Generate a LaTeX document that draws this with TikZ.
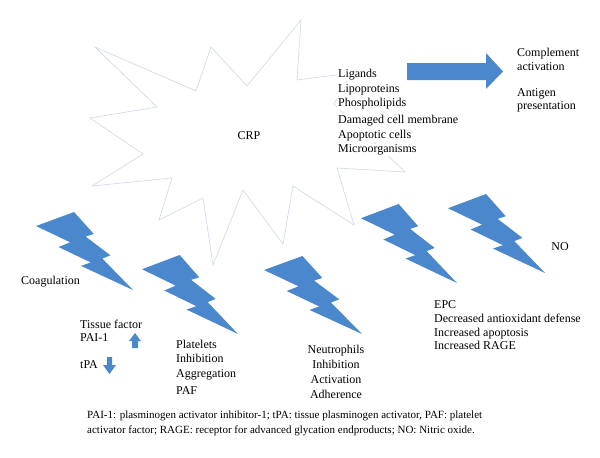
\documentclass[tikz,border=0pt]{standalone}
\usepackage{fontspec}
\setmainfont{Liberation Serif}
\definecolor{boltblue}{RGB}{74,135,204}
\definecolor{starline}{RGB}{205,215,228}
\tikzset{
  bolt/.pic={\fill[boltblue] (39.22,0) -- (59.54,28.15) -- (51.16,31.47) -- (76.75,55.59) -- (68.37,59.62) -- (100,100) -- (46.35,69.05) -- (56.58,64.75) -- (23.25,44.93) -- (35.19,38.81) -- (0,18.01) -- cycle;},
  txt/.style={font=\fontsize{12}{14}\selectfont, inner sep=0pt, anchor=base west},
  ctxt/.style={txt, anchor=base},
  captxt/.style={font=\fontsize{11}{13}\selectfont, inner sep=0pt, anchor=base west},
  blockarrow/.style={fill=boltblue, draw=none}
}
\begin{document}
\begin{tikzpicture}[x=1pt,y=-1pt]
\useasboundingbox (0,0) rectangle (600,458);
% star
\draw[starline, line width=0.6pt, line join=miter]
  (95,47) -- (196,91) -- (211,47) -- (247,86) -- (301,20) -- (297,80)
  -- (352,73) -- (334,104) -- (405,172) -- (337,168) -- (354,225)
  -- (293,186) -- (283,244) -- (243,190) -- (213,265) -- (203,198)
  -- (159,220) -- (172,178) -- (92,186) -- (143,154) -- (90,118)
  -- (157,107) -- cycle;
\node[ctxt] (crp) at (249,139) {CRP};
% list
\node[txt, fill=white, inner sep=1pt] (lig) at (337,77.5) {Ligands};
\node[txt, fill=white, inner sep=1pt] (lip) at (337,92) {Lipoproteins};
\node[txt, fill=white, inner sep=1pt] (pho) at (337,106.5) {Phospholipids};
\node[txt, fill=white, inner sep=1pt] (dam) at (337,123.5) {Damaged cell membrane};
\node[txt, fill=white, inner sep=1pt] (apo) at (337,138) {Apoptotic cells};
\node[txt, fill=white, inner sep=1pt] (mic) at (337,152.5) {Microorganisms};
% block arrow
\fill[blockarrow] (407,63) -- (486,63) -- (486,53) -- (503,71.5) -- (486,89) -- (486,80) -- (407,80) -- cycle;
\node[txt] (com) at (517,56.5) {Complement};
\node[txt] (act) at (517,70.5) {activation};
\node[txt] (ant) at (517,96.5) {Antigen};
\node[txt] (pre) at (517,109.5) {presentation};
% bolts
\pic[xscale=0.97, yscale=0.78] at (36,212) {bolt};
\pic[xscale=0.96, yscale=0.79] at (142,255) {bolt};
\pic[xscale=0.98, yscale=0.78] at (264,256) {bolt};
\pic[xscale=0.96, yscale=0.79] at (361,204) {bolt};
\pic[xscale=0.97, yscale=0.79] at (448,194) {bolt};
% coagulation
\node[txt] (coa) at (21,284) {Coagulation};
\node[txt] (tis) at (80,328) {Tissue factor};
\node[txt] (pai) at (80,341) {PAI-1};
\node[txt] (tpa) at (80,368) {tPA};
\fill[blockarrow] (132,348) -- (132,341) -- (129,341) -- (135,333) -- (141,341) -- (138,341) -- (138,348) -- cycle;
\fill[blockarrow] (107,357) -- (112,357) -- (112,365) -- (116,365) -- (109.5,374) -- (103,365) -- (107,365) -- cycle;
% platelets
\node[txt] (pla) at (176,348) {Platelets};
\node[txt] (pin) at (176,362) {Inhibition};
\node[txt] (agg) at (176,377) {Aggregation};
\node[txt] (paf) at (176,394) {PAF};
% neutrophils
\node[ctxt] (neu) at (336,353) {Neutrophils};
\node[ctxt] (nin) at (336,368) {Inhibition};
\node[ctxt] (nac) at (336,383) {Activation};
\node[ctxt] (adh) at (336,398) {Adherence};
% EPC
\node[txt] (epc) at (434,308) {EPC};
\node[txt] (dec) at (434,322.5) {Decreased antioxidant defense};
\node[txt] (iap) at (434,336) {Increased apoptosis};
\node[txt] (irg) at (434,349.5) {Increased RAGE};
% NO
\node[ctxt] (no) at (560,250) {NO};
% caption
\node[captxt] (cap1) at (87,418) {PAI-1: plasminogen activator inhibitor-1; tPA: tissue plasminogen activator, PAF: platelet};
\node[captxt] (cap2) at (87,433) {activator factor; RAGE: receptor for advanced glycation endproducts; NO: Nitric oxide.};
\end{tikzpicture}
\end{document}
